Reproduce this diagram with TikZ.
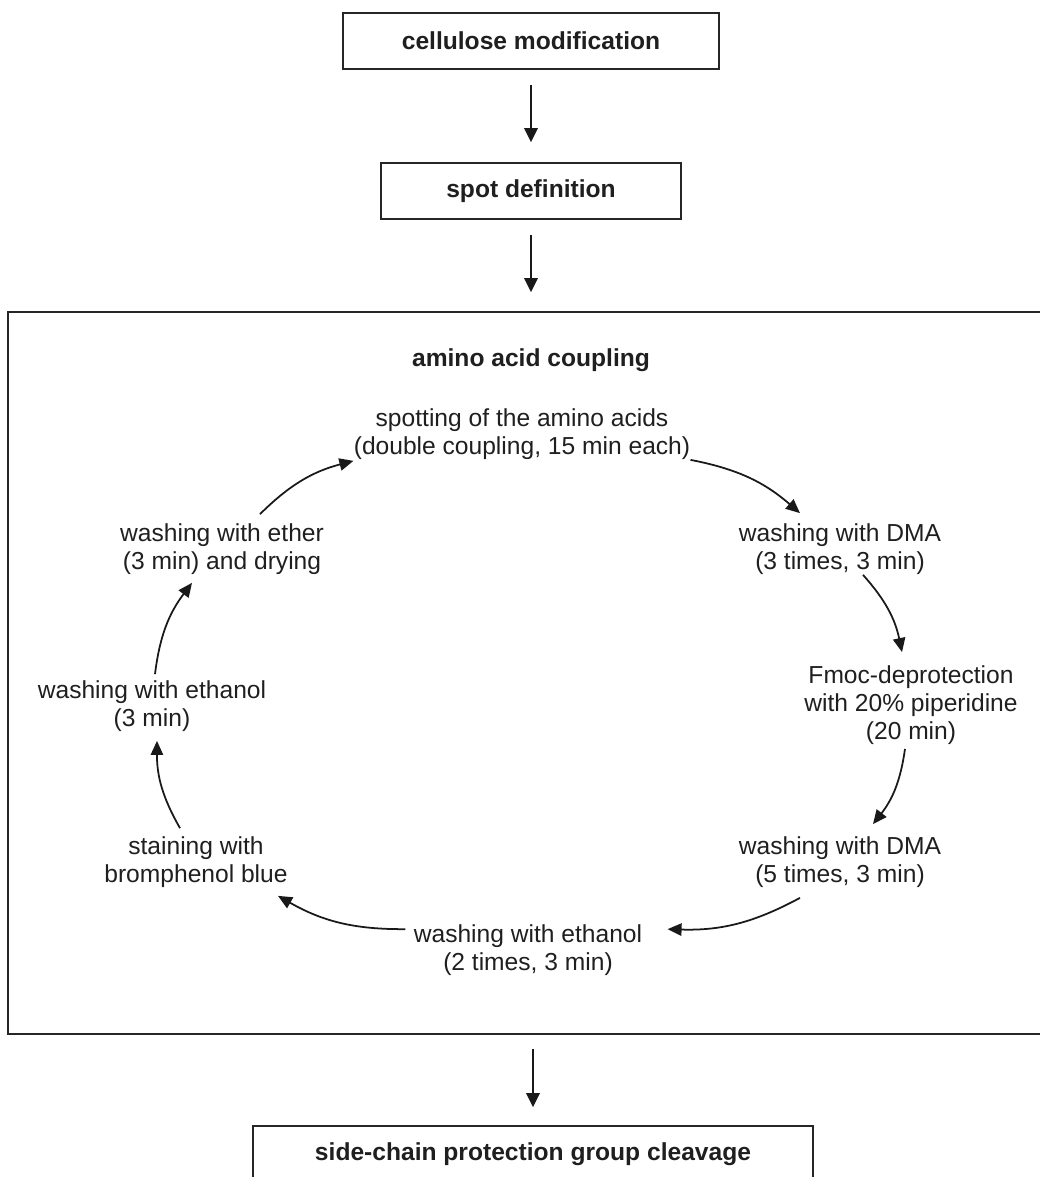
\documentclass[tikz,border=0pt]{standalone}
\usepackage{fontspec}
\setmainfont{Liberation Sans}
\usetikzlibrary{arrows.meta,calc}

\begin{document}
\begin{tikzpicture}[x=0.02cm,y=0.02cm,
	every node/.style={font=\fontsize{14}{16}\selectfont,text=black!88,align=center,inner sep=0pt},
	stage/.style={draw=black!85,line width=0.9pt,font=\fontsize{14}{16}\selectfont\bfseries},
	flow/.style={-{Triangle[length=8pt,width=7.5pt]},line width=1.4pt,black!90},
	turn/.style={-{Triangle[length=8pt,width=7pt]},line width=1pt,black!90,bend left=15}]
	\useasboundingbox (0,0) rectangle (1040,-1177);
	\clip (0,0) rectangle (1040,-1177);

	% main steps
	\node[stage,minimum width=7.52cm,minimum height=1.12cm] (cellulose) at (531,-41) {cellulose modification};
	\node[stage,minimum width=6cm,minimum height=1.12cm] (spotdef) at (531,-191) {spot definition};
	\node[draw=black!85,line width=0.9pt,minimum width=20.74cm,minimum height=14.44cm] (cycle) at (526.5,-673) {};
	\node[font=\fontsize{14}{16}\selectfont\bfseries] (title) at (531,-360) {amino acid coupling};
	\node[stage,minimum width=11.2cm,minimum height=1.12cm] (cleavage) at (533,-1154) {side-chain protection group cleavage};

	\draw[flow,shorten <=0.3cm,shorten >=0.4cm] (cellulose) -- (spotdef);
	\draw[flow,shorten <=0.3cm,shorten >=0.38cm] (spotdef) -- (spotdef |- cycle.north);
	\draw[flow,shorten <=0.28cm,shorten >=0.36cm] (cycle.south -| cleavage.north) -- (cleavage.north);

	% coupling cycle
	\node (spotting) at (522,-434) {spotting of the amino acids\\(double coupling, 15 min each)};
	\node (dmaA) at (840,-549) {washing with DMA\\(3 times, 3 min)};
	\node (fmoc) at (911,-705) {Fmoc-deprotection\\with 20\% piperidine\\(20 min)};
	\node (dmaB) at (840,-862) {washing with DMA\\(5 times, 3 min)};
	\node (ethanolB) at (528,-950) {washing with ethanol\\(2 times, 3 min)};
	\node (staining) at (196,-862) {staining with\\bromphenol blue};
	\node (ethanolA) at (152,-706) {washing with ethanol\\(3 min)};
	\node (ether) at (222,-549) {washing with ether\\(3 min) and drying};

	\draw[turn] ($(ether.north)+(38,9)$) to ($(spotting.south west)+(0,-1)$);
	\draw[turn] (spotting.south east) to ($(dmaA.north)+(-40,10)$);
	\draw[turn] ($(dmaA.south)+(23,0)$) to ($(fmoc.north)+(-9,13)$);
	\draw[turn] ($(fmoc.south)+(-6,-4)$) to ($(dmaB.north)+(33,12)$);
	\draw[turn] ($(dmaB.south)+(-40,-10)$) to ($(ethanolB.north east)+(25,-5)$);
	\draw[turn] ($(ethanolB.north west)+(-8,-5)$) to ($(staining.south east)+(-10,-8)$);
	\draw[turn] ($(staining.north)+(-16,8)$) to ($(ethanolA.south)+(5,-9)$);
	\draw[turn] ($(ethanolA.north)+(3,6)$) to ($(ether.south)+(-30,-8)$);
\end{tikzpicture}
\end{document}
